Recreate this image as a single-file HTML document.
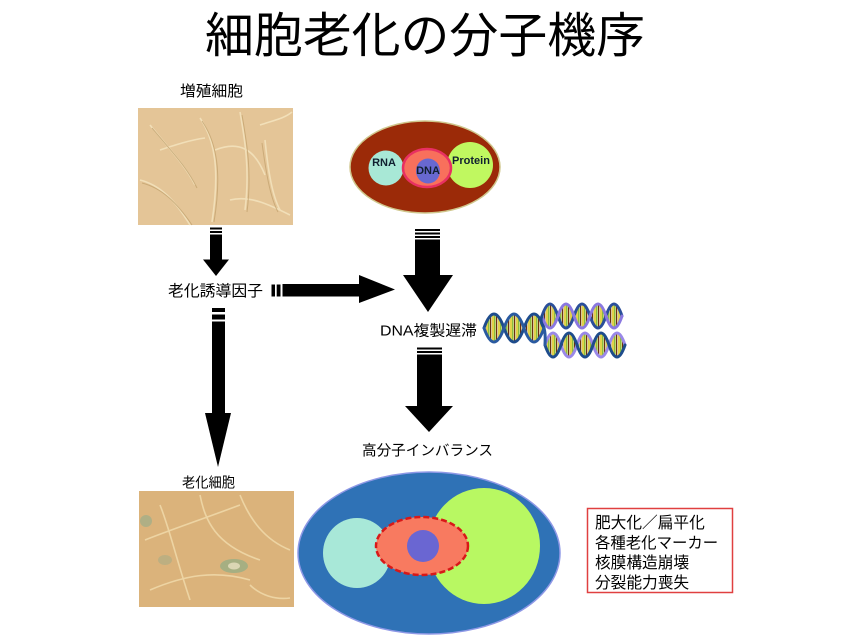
<!DOCTYPE html>
<html><head><meta charset="utf-8">
<style>
html,body{margin:0;padding:0;background:#fff;}
svg{display:block;}
text{font-family:"Liberation Sans","Noto Sans CJK JP",sans-serif;}
</style></head>
<body>
<svg width="853" height="640" viewBox="0 0 853 640" xmlns="http://www.w3.org/2000/svg">
<defs>
<pattern id="rungs" x="0" y="0" width="6" height="10" patternUnits="userSpaceOnUse">
<rect x="0" y="0" width="6" height="10" fill="#f4ecc0"/>
<rect x="0" y="0" width="2" height="10" fill="#e2d24a"/>
<rect x="2" y="0" width="1.5" height="10" fill="#8cbc3c"/>
<rect x="4" y="0" width="1.2" height="10" fill="#6a3010"/>
</pattern>
</defs>

<!-- Title -->
<text x="205" y="52" font-size="48" textLength="440" lengthAdjust="spacingAndGlyphs" fill="#000">細胞老化の分子機序</text>

<!-- Proliferating cells label & image -->
<text x="180" y="96" font-size="15" textLength="63" lengthAdjust="spacingAndGlyphs" fill="#000">増殖細胞</text>
<rect x="138" y="108" width="155" height="117" fill="#e4c597"/>
<g fill="none" stroke="#f3e2bc" stroke-width="1.6" opacity="0.9">
<path d="M150,125 C170,150 185,165 195,185"/>
<path d="M200,118 C215,140 220,170 212,222"/>
<path d="M215,150 C240,140 255,150 265,175"/>
<path d="M240,112 C245,140 250,170 245,210"/>
<path d="M260,125 C275,120 285,118 292,112"/>
<path d="M140,180 C160,185 175,200 190,225"/>
<path d="M230,200 C250,195 270,205 290,215"/>
<path d="M265,140 C268,170 272,195 280,210"/>
<path d="M160,150 C175,145 190,140 205,138"/>
</g>
<g fill="none" stroke="#c4a470" stroke-width="1" opacity="0.8">
<path d="M152,128 C172,152 187,167 197,188"/>
<path d="M202,121 C217,143 222,173 214,222"/>
<path d="M242,115 C247,143 252,173 247,212"/>
<path d="M142,183 C162,188 177,203 192,225"/>
<path d="M262,143 C266,172 270,197 278,212"/>
</g>

<!-- Top ellipse (cell) -->
<ellipse cx="425" cy="167" rx="75" ry="46" fill="#9b2a08" stroke="#cfc68c" stroke-width="1.5"/>
<circle cx="386" cy="168" r="17.5" fill="#a8e8d6"/>
<circle cx="470" cy="165" r="23" fill="#c0f860"/>
<ellipse cx="427" cy="168" rx="24" ry="19" fill="#f8705c" stroke="#e83062" stroke-width="2.5"/>
<ellipse cx="428" cy="171" rx="12" ry="12.5" fill="#6868d0"/>
<text x="384" y="166" font-size="11" font-weight="bold" text-anchor="middle" fill="#102030">RNA</text>
<text x="428" y="174" font-size="11" font-weight="bold" text-anchor="middle" fill="#102030">DNA</text>
<text x="471" y="164" font-size="11" font-weight="bold" text-anchor="middle" fill="#102030">Protein</text>

<!-- Top-left short arrow -->
<g fill="#000">
<rect x="210" y="227.5" width="12" height="2"/>
<rect x="210" y="231" width="12" height="2"/>
<rect x="210" y="234.5" width="12" height="26"/>
<polygon points="203,259.5 229,259.5 216,276"/>
</g>

<!-- 老化誘導因子 label -->
<text x="168" y="296" font-size="15.5" textLength="95" lengthAdjust="spacingAndGlyphs" fill="#000">老化誘導因子</text>

<!-- Horizontal arrow -->
<g fill="#000">
<rect x="271.5" y="284.5" width="3.5" height="12"/>
<rect x="276.7" y="284.5" width="3.8" height="12"/>
<rect x="282.5" y="284" width="78" height="12.5"/>
<polygon points="359,275 359,303 395,289.5"/>
</g>

<!-- Middle arrow 1 -->
<g fill="#000">
<rect x="415" y="229" width="25" height="2"/>
<rect x="415" y="232.5" width="25" height="2"/>
<rect x="415" y="236" width="25" height="2"/>
<rect x="415" y="239.5" width="25" height="36"/>
<polygon points="403,275 453,275 428,312"/>
</g>

<!-- DNA複製遅滞 label -->
<text x="380" y="335.5" font-size="15" textLength="97" lengthAdjust="spacingAndGlyphs" fill="#000">DNA複製遅滞</text>

<!-- DNA helix -->
<g stroke-linecap="round">
<!-- left helix -->
<path d="M484,328 q10,-28 20,0 t20,0 t20,0 L544,328 q-10,28 -20,0 t-20,0 t-20,0 Z" fill="url(#rungs)"/>
<path d="M484,328 q10,-28 20,0 t20,0 t20,0" fill="none" stroke="#1e4c8c" stroke-width="3"/>
<path d="M484,328 q10,28 20,0 t20,0 t20,0" fill="none" stroke="#2a5aa0" stroke-width="3"/>
<!-- top helix -->
<path d="M542,316 q8,-24 16,0 t16,0 t16,0 t16,0 t16,0 L622,316 q-8,24 -16,0 t-16,0 t-16,0 t-16,0 t-16,0 Z" fill="url(#rungs)"/>
<path d="M542,316 q8,-24 16,0 t16,0 t16,0 t16,0 t16,0" fill="none" stroke="#2a4e9a" stroke-width="3"/>
<path d="M542,316 q8,24 16,0 t16,0 t16,0 t16,0 t16,0" fill="none" stroke="#8a78e0" stroke-width="3"/>
<path d="M544,328 C540,322 541,318 542,316" fill="none" stroke="#1e4c8c" stroke-width="3"/>
<!-- bottom helix -->
<path d="M545,345 q8,-24 16,0 t16,0 t16,0 t16,0 t16,0 L625,345 q-8,24 -16,0 t-16,0 t-16,0 t-16,0 t-16,0 Z" fill="url(#rungs)"/>
<path d="M545,345 q8,-24 16,0 t16,0 t16,0 t16,0 t16,0" fill="none" stroke="#9a88e8" stroke-width="3"/>
<path d="M545,345 q8,24 16,0 t16,0 t16,0 t16,0 t16,0" fill="none" stroke="#1e4c8c" stroke-width="3"/>
<path d="M544,328 C546,335 545,340 545,345" fill="none" stroke="#2a5aa0" stroke-width="3"/>
</g>

<!-- Middle arrow 2 -->
<g fill="#000">
<rect x="417" y="347.5" width="25" height="2"/>
<rect x="417" y="351" width="25" height="2"/>
<rect x="417" y="354.5" width="25" height="52"/>
<polygon points="405,406 453,406 429,432"/>
</g>

<!-- 高分子インバランス label -->
<text x="362" y="455.5" font-size="14.5" textLength="131" lengthAdjust="spacingAndGlyphs" fill="#000">高分子インバランス</text>

<!-- Long left arrow -->
<g fill="#000">
<rect x="212" y="308" width="13" height="4"/>
<rect x="212" y="314.5" width="13" height="5"/>
<rect x="212" y="321.5" width="13" height="92"/>
<polygon points="205,413 231,413 218,467"/>
</g>

<!-- Aged cells label & image -->
<text x="182" y="487.5" font-size="14" textLength="53" lengthAdjust="spacingAndGlyphs" fill="#000">老化細胞</text>
<rect x="139" y="491" width="155" height="116" fill="#dbb37b"/>
<g fill="none" stroke="#efd8a8" stroke-width="1.6" opacity="0.9">
<path d="M145,540 C170,530 200,520 240,505"/>
<path d="M200,495 C205,520 215,545 260,560"/>
<path d="M150,590 C185,575 215,570 250,580"/>
<path d="M240,495 C250,520 265,540 290,550"/>
<path d="M160,505 C170,530 175,555 190,600"/>
<path d="M250,585 C260,595 275,600 290,598"/>
</g>
<ellipse cx="234" cy="566" rx="14" ry="7" fill="#9cae84" opacity="0.85"/>
<ellipse cx="234" cy="566" rx="6" ry="3.5" fill="#e8e0c0" opacity="0.8"/>
<ellipse cx="146" cy="521" rx="6" ry="6" fill="#a4ae88" opacity="0.8"/>
<ellipse cx="165" cy="560" rx="7" ry="5" fill="#b0ae84" opacity="0.7"/>

<!-- Bottom ellipse -->
<ellipse cx="429" cy="553" rx="131" ry="81" fill="#2f72b6" stroke="#8e98e6" stroke-width="1.5"/>
<ellipse cx="357" cy="553" rx="34" ry="35" fill="#a8e8d8"/>
<ellipse cx="484" cy="546" rx="56" ry="58" fill="#b8f862"/>
<ellipse cx="422" cy="546" rx="46" ry="29" fill="#f87a60" stroke="#d81818" stroke-width="2.5" stroke-dasharray="6,3"/>
<ellipse cx="423" cy="546" rx="16" ry="16" fill="#6a66d2"/>

<!-- Red box -->
<rect x="587.5" y="508.5" width="145" height="84" fill="#fff" stroke="#e04040" stroke-width="1.5"/>
<text x="595" y="528" font-size="15.7" fill="#000">肥大化／扁平化</text>
<text x="595" y="548" font-size="15.4" fill="#000">各種老化マーカー</text>
<text x="595" y="568" font-size="15.7" fill="#000">核膜構造崩壊</text>
<text x="595" y="588" font-size="15.7" fill="#000">分裂能力喪失</text>
</svg>
</body></html>
